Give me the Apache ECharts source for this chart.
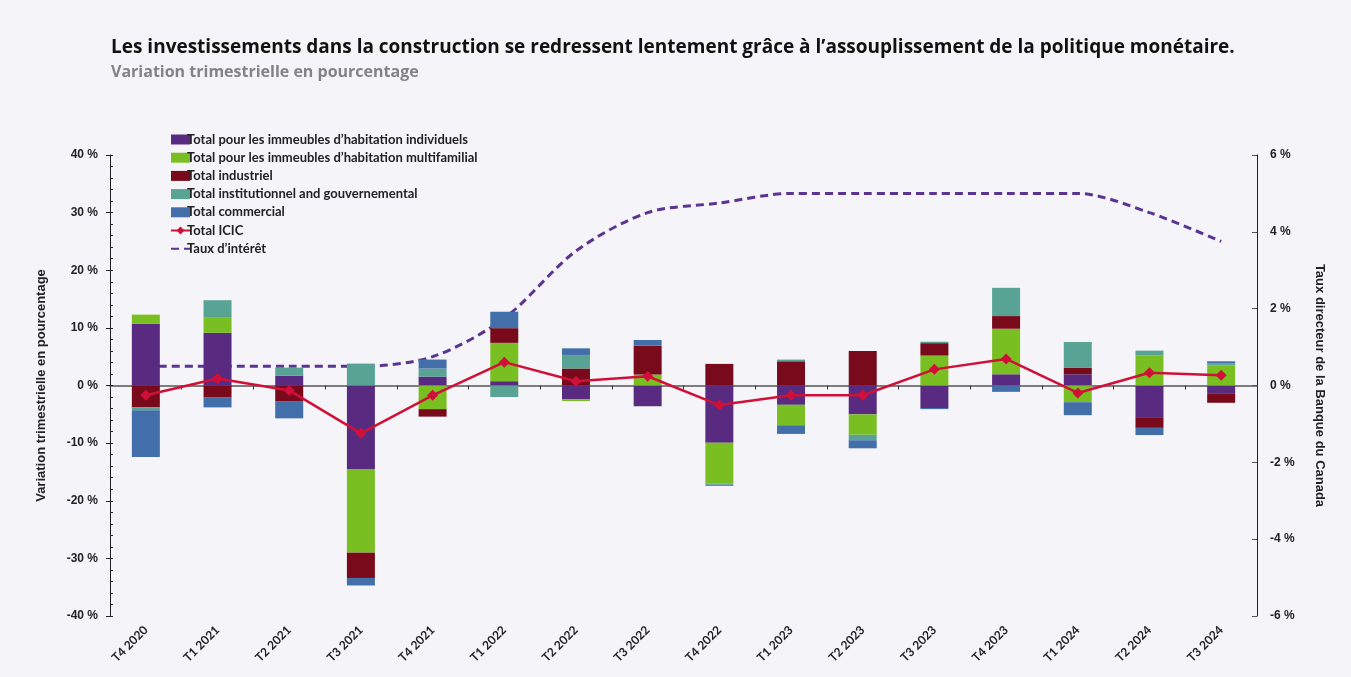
<!DOCTYPE html>
<html lang="fr">
<head>
    <meta charset="UTF-8">
    <title>Investissements dans la construction</title>
    <script src="https://cdn.jsdelivr.net/npm/echarts@6/dist/echarts.min.js"></script>
    <style>
        html, body { margin: 0; padding: 0; background: #f5f5f9; }
        #chart { width: 1351px; height: 677px; }
    </style>
</head>
<body>
<div id="chart"></div>
<script>
    // trimestres
    var categories = ['T4 2020', 'T1 2021', 'T2 2021', 'T3 2021', 'T4 2021', 'T1 2022', 'T2 2022', 'T3 2022',
        'T4 2022', 'T1 2023', 'T2 2023', 'T3 2023', 'T4 2023', 'T1 2024', 'T2 2024', 'T3 2024'];

    // variations trimestrielles (%)
    var individuels    = [10.7, 9.15, 1.7, -14.5, 1.55, 0.75, -2.4, -3.6, -9.95, -3.35, -5.0, -3.9, 1.95, 1.95, -5.5, -1.45];
    var multifamilial  = [1.6, 2.6, 0, -14.5, -4.1, 6.65, -0.3, 1.9, -7.05, -3.55, -3.55, 5.2, 7.9, -2.9, 5.25, 3.5];
    var industriel     = [-3.8, -2.1, -2.8, -4.4, -1.3, 2.55, 2.95, 5.0, 3.75, 4.2, 6.0, 2.15, 2.2, 1.1, -1.85, -1.55];
    var institutionnel = [-0.5, 3.05, 1.4, 3.8, 1.4, -2.0, 2.35, 0, -0.2, 0.3, -0.95, 0.25, 4.9, 4.5, 0.8, 0.35];
    var commercial     = [-8.1, -1.7, -2.9, -1.3, 1.55, 2.85, 1.15, 1.0, -0.2, -1.5, -1.4, -0.2, -1.1, -2.25, -1.25, 0.35];
    var totalICIC      = [-1.7, 1.2, -0.85, -8.3, -1.7, 4.05, 0.75, 1.6, -3.4, -1.7, -1.7, 2.8, 4.6, -1.3, 2.2, 1.8];
    // taux directeur (%), axe de droite
    var tauxInteret    = [0.5, 0.5, 0.5, 0.5, 0.75, 1.75, 3.5, 4.5, 4.75, 5, 5, 5, 5, 5, 4.5, 3.75];

    var chart = echarts.init(document.getElementById('chart'));

    var txt = '#222';
    var labelFont = 'Liberation Sans';

    function barSeries(name, data, color) {
        return {
            name: name,
            type: 'bar',
            stack: 'total',
            barWidth: 28,
            z: 2,
            itemStyle: { color: color },
            data: data
        };
    }

    var option = {
        backgroundColor: '#f5f5f9',
        animation: false,
        title: {
            text: 'Les investissements dans la construction se redressent lentement grâce à l\u2019assouplissement de la politique monétaire.',
            subtext: 'Variation trimestrielle en pourcentage',
            left: 106,
            top: 33,
            itemGap: 7,
            textStyle: { fontFamily: 'Open Sans', fontWeight: 'bold', fontSize: 19, color: '#111' },
            subtextStyle: { fontFamily: 'Open Sans', fontWeight: 'bold', fontSize: 16, color: '#838383' }
        },
        legend: {
            orient: 'vertical',
            left: 165,
            top: 128,
            itemWidth: 19,
            itemHeight: 10,
            itemGap: 5.2,
            textStyle: { fontFamily: 'Lato', fontWeight: 'bold', fontSize: 13, color: txt, padding: [0, 0, 0, -8] },
            data: [
                { name: 'Total pour les immeubles d\u2019habitation individuels', icon: 'rect' },
                { name: 'Total pour les immeubles d\u2019habitation multifamilial', icon: 'rect' },
                { name: 'Total industriel', icon: 'rect' },
                { name: 'Total institutionnel and gouvernemental', icon: 'rect' },
                { name: 'Total commercial', icon: 'rect' },
                'Total ICIC',
                { name: 'Taux d\u2019intérêt', itemStyle: { color: 'rgba(0,0,0,0)', borderWidth: 0 } }
            ]
        },
        grid: { left: 110, right: 94, top: 155, bottom: 61 },
        xAxis: [
            {
                type: 'category',
                data: categories,
                position: 'bottom',
                axisLine: { show: false, onZero: false },
                axisTick: { show: false },
                axisLabel: { rotate: 45, margin: 12, fontFamily: 'Lato', fontWeight: 'bold', fontSize: 12, color: txt }
            },
            {
                // ligne du zéro avec graduations aux demi-trimestres
                type: 'value',
                position: 'top',
                min: 0,
                max: categories.length * 2,
                interval: 1,
                axisLine: { show: true, onZero: true, lineStyle: { color: '#555', width: 1.5 } },
                axisTick: { show: true, inside: true, length: 4, lineStyle: { color: '#333' } },
                axisLabel: { show: false },
                splitLine: { show: false }
            }
        ],
        yAxis: [
            {
                type: 'value',
                position: 'left',
                min: -40,
                max: 40,
                interval: 10,
                name: 'Variation trimestrielle en pourcentage',
                nameLocation: 'middle',
                nameGap: 62,
                nameRotate: 90,
                nameTextStyle: { fontFamily: labelFont, fontWeight: 'bold', fontSize: 13, color: txt },
                axisLine: { show: true, lineStyle: { color: '#222', width: 1 } },
                axisTick: { show: true, inside: true, length: 3, lineStyle: { color: '#222' } },
                minorTick: { show: true, splitNumber: 5, length: 3, lineStyle: { color: '#222' } },
                axisLabel: { formatter: '{value} %', margin: 12, fontFamily: labelFont, fontWeight: 'bold', fontSize: 12, color: txt },
                splitLine: { show: false }
            },
            {
                type: 'value',
                position: 'right',
                min: -6,
                max: 6,
                interval: 2,
                name: 'Taux directeur de la Banque du Canada',
                nameLocation: 'middle',
                nameGap: 56,
                nameRotate: -90,
                nameTextStyle: { fontFamily: labelFont, fontWeight: 'bold', fontSize: 13, color: txt },
                axisLine: { show: true, lineStyle: { color: '#222', width: 1 } },
                axisTick: { show: true, inside: true, length: 5, lineStyle: { color: '#555' } },
                axisLabel: { formatter: '{value} %', margin: 13, fontFamily: labelFont, fontWeight: 'bold', fontSize: 12, color: txt },
                splitLine: { show: false }
            },
            {
                // graduations principales vers l'extérieur à gauche
                type: 'value',
                position: 'left',
                min: -40,
                max: 40,
                interval: 10,
                axisLine: { show: false },
                axisTick: { show: true, length: 4, lineStyle: { color: '#222' } },
                axisLabel: { show: false },
                splitLine: { show: false }
            }
        ],
        series: [
            {
                name: 'Taux d\u2019intérêt',
                type: 'line',
                yAxisIndex: 1,
                z: 1,
                smooth: 0.3,
                symbol: 'none',
                lineStyle: { color: '#5b3390', width: 3, type: [8, 5] },
                itemStyle: { color: '#5b3390' },
                data: tauxInteret
            },
            barSeries('Total pour les immeubles d\u2019habitation individuels', individuels, '#582b81'),
            barSeries('Total pour les immeubles d\u2019habitation multifamilial', multifamilial, '#7abf22'),
            barSeries('Total industriel', industriel, '#780a1b'),
            barSeries('Total institutionnel and gouvernemental', institutionnel, '#58a393'),
            barSeries('Total commercial', commercial, '#426ea9'),
            {
                name: 'Total ICIC',
                type: 'line',
                z: 5,
                symbol: 'diamond',
                symbolSize: 11,
                lineStyle: { color: '#d01038', width: 2.5 },
                itemStyle: { color: '#d01038' },
                data: totalICIC
            }
        ]
    };

    chart.setOption(option);
</script>
</body>
</html>
